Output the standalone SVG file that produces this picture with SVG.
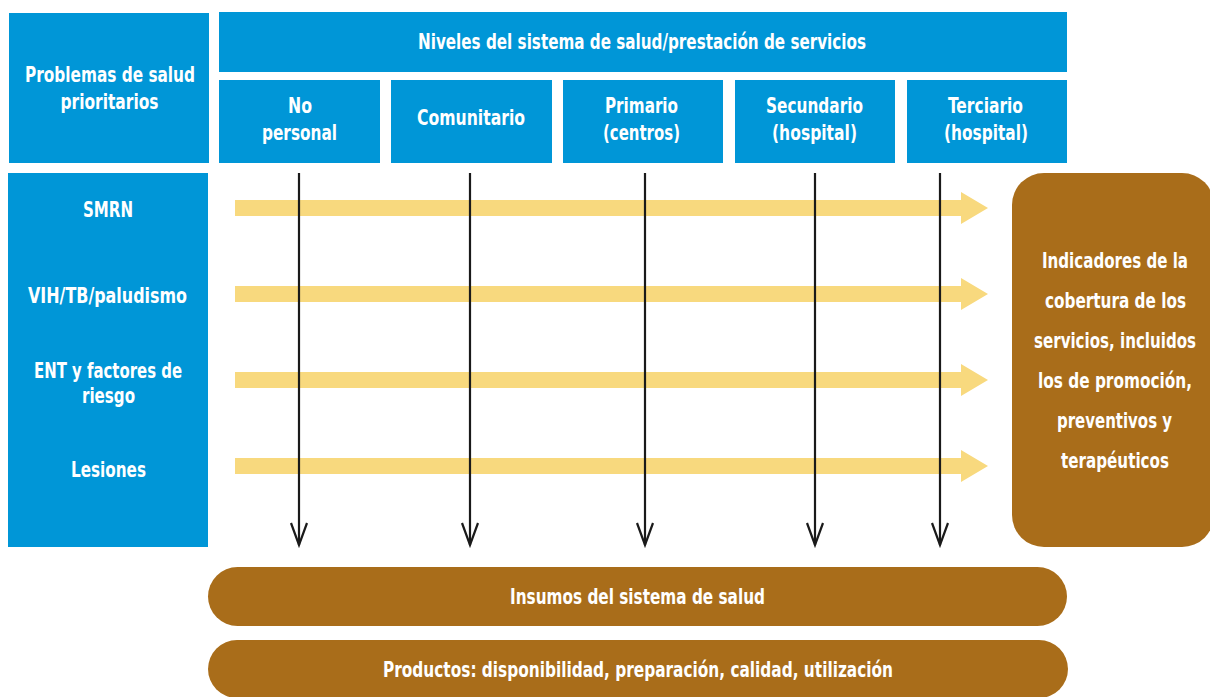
<svg xmlns="http://www.w3.org/2000/svg" width="1210" height="697" viewBox="0 0 1210 697">
<style>
.blue{fill:#0096D7}
.brown{fill:#A96D1A}
.band{fill:#F8D97E}
.t{font-family:"DejaVu Sans Condensed","Liberation Sans Narrow","Liberation Sans",sans-serif;font-weight:bold;font-size:21px;fill:#fff;text-anchor:middle}
.conn{stroke:#1a1a1a;stroke-width:2.2;fill:none}
</style>
<defs>
<marker id="ah" markerWidth="26" markerHeight="20" refX="23" refY="9" orient="auto" markerUnits="userSpaceOnUse" viewBox="0 0 26 18">
<path d="M1,1 L23,9 L1,17" fill="none" stroke="#1a1a1a" stroke-width="2.2"/>
</marker>
</defs>
<rect width="1210" height="697" fill="#fff"/>
<g id="problemas">
<rect class="blue" x="9" y="13" width="200" height="150"/>
<text class="t" x="110" y="82" textLength="170" lengthAdjust="spacingAndGlyphs">Problemas de salud</text>
<text class="t" x="109.5" y="109" textLength="98" lengthAdjust="spacingAndGlyphs">prioritarios</text>
</g>
<g id="niveles">
<rect class="blue" x="219" y="12" width="848" height="60"/>
<text class="t" x="642" y="49" textLength="448" lengthAdjust="spacingAndGlyphs">Niveles del sistema de salud/prestación de servicios</text>
</g>
<g id="nopersonal">
<rect class="blue" x="219" y="80" width="161" height="83"/>
<text class="t" x="300" y="113" textLength="24" lengthAdjust="spacingAndGlyphs">No</text>
<text class="t" x="299.5" y="140" textLength="75" lengthAdjust="spacingAndGlyphs">personal</text>
</g>
<g id="comunitario">
<rect class="blue" x="391" y="80" width="161" height="83"/>
<text class="t" x="471" y="125" textLength="108" lengthAdjust="spacingAndGlyphs">Comunitario</text>
</g>
<g id="primario">
<rect class="blue" x="563" y="80" width="160" height="83"/>
<text class="t" x="641.5" y="113" textLength="73" lengthAdjust="spacingAndGlyphs">Primario</text>
<text class="t" x="641.5" y="140" textLength="77" lengthAdjust="spacingAndGlyphs">(centros)</text>
</g>
<g id="secundario">
<rect class="blue" x="735" y="80" width="160" height="83"/>
<text class="t" x="814.5" y="113" textLength="97" lengthAdjust="spacingAndGlyphs">Secundario</text>
<text class="t" x="814.5" y="140" textLength="85" lengthAdjust="spacingAndGlyphs">(hospital)</text>
</g>
<g id="terciario">
<rect class="blue" x="907" y="80" width="160" height="83"/>
<text class="t" x="985.5" y="113" textLength="75" lengthAdjust="spacingAndGlyphs">Terciario</text>
<text class="t" x="986" y="140" textLength="84" lengthAdjust="spacingAndGlyphs">(hospital)</text>
</g>
<g id="problemas-lista">
<rect class="blue" x="8" y="173" width="200" height="374"/>
<text class="t" x="108" y="217" textLength="50" lengthAdjust="spacingAndGlyphs">SMRN</text>
<text class="t" x="107.5" y="303" textLength="159" lengthAdjust="spacingAndGlyphs">VIH/TB/paludismo</text>
<text class="t" x="108" y="378" textLength="148" lengthAdjust="spacingAndGlyphs">ENT y factores de</text>
<text class="t" x="108.5" y="403" textLength="53" lengthAdjust="spacingAndGlyphs">riesgo</text>
<text class="t" x="108.5" y="477" textLength="75" lengthAdjust="spacingAndGlyphs">Lesiones</text>
</g>
<g id="bandas">
<path class="band" d="M235,200 H961 V192 L988,208 L961,224 V216 H235 Z"/>
<path class="band" d="M235,286 H961 V278 L988,294 L961,310 V302 H235 Z"/>
<path class="band" d="M235,372 H961 V364 L988,380 L961,396 V388 H235 Z"/>
<path class="band" d="M235,458 H961 V450 L988,466 L961,482 V474 H235 Z"/>
</g>
<g id="connectors">
<line class="conn" x1="299" y1="173" x2="299" y2="545" marker-end="url(#ah)"/>
<line class="conn" x1="470" y1="173" x2="470" y2="545" marker-end="url(#ah)"/>
<line class="conn" x1="645" y1="173" x2="645" y2="545" marker-end="url(#ah)"/>
<line class="conn" x1="815" y1="173" x2="815" y2="545" marker-end="url(#ah)"/>
<line class="conn" x1="940" y1="173" x2="940" y2="545" marker-end="url(#ah)"/>
</g>
<g id="indicadores">
<rect class="brown" x="1012" y="173" width="202" height="374" rx="32" ry="32"/>
<text class="t" x="1115" y="268" textLength="146" lengthAdjust="spacingAndGlyphs">Indicadores de la</text>
<text class="t" x="1115.5" y="308" textLength="141" lengthAdjust="spacingAndGlyphs">cobertura de los</text>
<text class="t" x="1115" y="348" textLength="162" lengthAdjust="spacingAndGlyphs">servicios, incluidos</text>
<text class="t" x="1115" y="388" textLength="154" lengthAdjust="spacingAndGlyphs">los de promoción,</text>
<text class="t" x="1114.5" y="428" textLength="115" lengthAdjust="spacingAndGlyphs">preventivos y</text>
<text class="t" x="1115" y="468" textLength="108" lengthAdjust="spacingAndGlyphs">terapéuticos</text>
</g>
<g id="insumos">
<rect class="brown" x="208" y="567" width="859" height="59" rx="29.5" ry="29.5"/>
<text class="t" x="637.5" y="604" textLength="255" lengthAdjust="spacingAndGlyphs">Insumos del sistema de salud</text>
</g>
<g id="productos">
<rect class="brown" x="208" y="640" width="860" height="58" rx="29" ry="29"/>
<text class="t" x="638" y="677" textLength="510" lengthAdjust="spacingAndGlyphs">Productos: disponibilidad, preparación, calidad, utilización</text>
</g>
</svg>
